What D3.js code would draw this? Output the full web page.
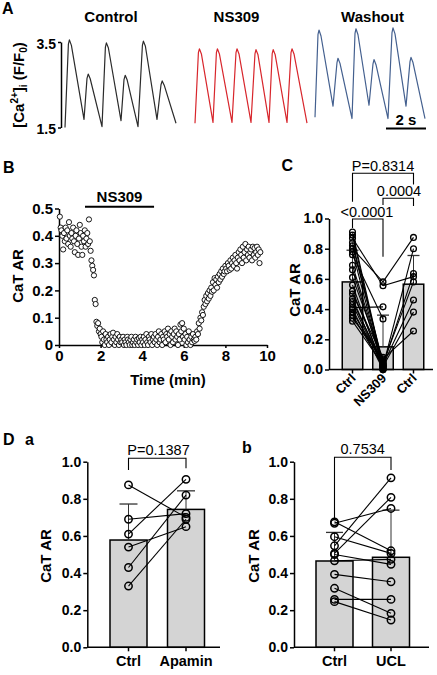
<!DOCTYPE html>
<html><head><meta charset="utf-8">
<script src="https://cdn.jsdelivr.net/npm/d3@7"></script>
<style>
body{margin:0;background:#fff;}
svg{display:block;font-family:"Liberation Sans",Arial,sans-serif;}
</style></head><body>
<svg id="fig" width="437" height="675"></svg>
<script>
// ---------- Panel A : Ca transients (time in s, value F/F0) ----------
const traceLabels = ["Control", "NS309", "Washout"];
const controlTrace = [[0,1.5],[0.17,3.45],[0.22,3.55],[0.32,3.42],[0.95,1.69],[1.1,2.65],[1.16,2.75],[1.26,2.64],[1.85,1.52],[2.02,3.38],[2.07,3.48],[2.17,3.36],[2.8,1.66],[2.95,2.62],[3.01,2.72],[3.11,2.61],[3.65,1.52],[3.87,3.42],[3.92,3.52],[4.02,3.4],[4.6,1.69],[4.8,2.5],[4.86,2.59],[4.96,2.49],[5.55,1.6]];
const ns309Trace = [[6.5,1.6],[6.67,3.25],[6.72,3.34],[6.82,3.22],[7.4,1.62],[7.57,3.25],[7.62,3.34],[7.72,3.22],[8.35,1.62],[8.55,3.25],[8.6,3.34],[8.7,3.22],[9.3,1.62],[9.5,3.23],[9.55,3.32],[9.65,3.2],[10.2,1.62],[10.36,3.23],[10.41,3.32],[10.51,3.2],[11.1,1.62],[11.3,3.25],[11.35,3.34],[11.45,3.22],[12.1,1.6]];
const washoutTrace = [[12.5,1.74],[12.65,3.68],[12.7,3.78],[12.8,3.64],[13.4,2.0],[13.6,3.02],[13.65,3.12],[13.75,3.0],[14.35,1.71],[14.5,3.7],[14.55,3.81],[14.65,3.67],[15.2,2.02],[15.4,2.99],[15.45,3.09],[15.55,2.97],[16.15,1.71],[16.35,3.72],[16.4,3.83],[16.5,3.69],[17.05,2.0],[17.25,3.04],[17.3,3.14],[17.4,3.02],[18.0,1.71]];
const aTicks = [1.5, 3.5];
const scaleBarSec = 2;

// ---------- Panel B : CaT AR over time ----------
const bStart = 0.04, bStep = 0.04; // sampling (min)
const bValues = [
0.47,0.43,0.42,0.40,0.35,0.41,0.38,0.43,0.39,0.42,0.37,0.45,0.40,0.36,0.41,0.39,0.43,0.38,0.34,0.40,0.42,0.37,0.33,0.39,0.44,0.41,0.36,0.33,0.40,0.38,0.42,0.36,0.39,0.41,0.37,
0.46,0.38,0.345,0.31,0.29,0.275,0.255,0.165,0.15,
0.085,0.07,0.08,0.05,0.06,0.04,
0.03,0.01,0.05,0.02,0.0,0.04,0.02,0.01,0.03,0.0,0.02,0.04,0.01,0.03,0.045,0.02,0.0,0.03,0.01,0.04,0.02,0.0,0.03,0.01,0.02,
0.01,0.03,0.0,0.02,0.01,0.0,0.03,0.02,0.01,0.0,0.02,0.03,0.0,0.01,0.02,0.0,0.03,0.01,0.02,0.0,0.025,0.01,0.03,0.0,0.02,
0.01,0.03,0.0,0.02,0.04,0.01,0.0,0.03,0.02,0.01,0.04,0.0,0.02,0.03,0.01,0.04,0.02,0.0,0.03,0.05,0.01,0.02,0.04,0.0,0.03,
0.02,0.05,0.01,0.04,0.03,0.06,0.02,0.04,0.0,0.05,0.03,0.01,0.04,0.06,0.02,0.05,0.03,0.0,0.04,0.02,0.075,0.05,0.08,0.03,0.06,
0.02,0.04,0.0,0.03,0.01,0.05,0.02,0.0,0.03,0.01,0.04,0.02,
0.015,0.03,0.02,0.05,0.04,0.08,0.06,0.10,0.09,0.12,0.11,0.14,0.165,
0.15,0.18,0.16,0.19,0.17,0.20,0.18,0.21,0.195,0.23,0.20,0.245,0.22,0.24,0.21,0.25,0.23,0.26,0.24,0.27,0.25,0.28,0.26,0.27,0.29,
0.28,0.27,0.30,0.29,0.275,0.31,0.28,0.30,0.32,0.29,0.31,0.33,0.30,0.28,0.32,0.34,0.31,0.35,0.33,0.30,0.36,0.32,0.34,0.37,0.31,0.35,0.33,0.36,0.32,0.34,0.35,0.31,0.36,0.33,0.355,0.32,0.34,0.36,0.33,0.35,0.30,0.34];
const bXTicks = [0,2,4,6,8,10];
const bYTicks = [0,0.1,0.2,0.3,0.4,0.5];
const bDrugWindow = [1.25, 4.57];

// ---------- Panel C ----------
const cCategories = ["Ctrl", "NS309", "Ctrl "];
const cCtrl  = [0.91,0.89,0.87,0.84,0.82,0.80,0.78,0.76,0.69,0.66,0.61,0.56,0.52,0.50,0.47,0.45,0.43,0.41,0.40,0.38,0.36,0.34,0.32];
const cNS309 = [0.02,0.00,0.555,0.03,0.05,0.58,0.01,0.335,0.04,0.02,0.06,0.00,0.03,0.08,0.01,0.04,0.02,0.415,0.00,0.05,0.02,0.07,0.03];
const cWash  = [0.80,null,0.615,0.635,null,0.875,null,null,0.58,null,null,null,0.46,null,null,null,0.38,null,null,null,null,0.255,null];
const cMeans = [0.58, 0.15, 0.565];
const cSD    = [0.21, 0.21, 0.19];
const cPvals = ["P=0.8314", "0.0004", "<0.0001"];

// ---------- Panel D ----------
const daCategories = ["Ctrl", "Apamin"];
const daCtrl   = [0.875,0.69,0.61,0.54,0.43,0.33];
const daApamin = [0.70,0.72,0.905,0.65,0.82,0.69];
const daMeans  = [0.578, 0.743];
const daSD     = [0.194, 0.10];
const daP      = "P=0.1387";

const dbCategories = ["Ctrl", "UCL"];
const dbCtrl = [0.676,0.668,0.596,0.547,0.506,0.50,0.466,0.393,0.318,0.258,0.246];
const dbUCL  = [0.52,0.748,0.506,0.913,0.808,0.447,0.474,0.353,0.183,0.258,0.147];
const dbMeans = [0.465, 0.485];
const dbSD    = [0.154, 0.254];
const dbP     = "0.7534";

const barTicks = [0,0.2,0.4,0.6,0.8,1.0];

// =====================================================================
const svg = d3.select("#fig");
function styleAxis(g, size){
  g.selectAll("path.domain").attr("stroke","#000").attr("stroke-width",1.5);
  g.selectAll(".tick line").attr("stroke","#000").attr("stroke-width",1.5);
  g.selectAll(".tick text").attr("font-family","Liberation Sans, Arial, sans-serif")
    .attr("font-weight","bold").attr("font-size",size).attr("fill","#000");
}
function label(x,y,t,opts={}){
  const el = svg.append("text").attr("x",x).attr("y",y).text(t)
    .attr("font-size",opts.size||16).attr("font-weight",opts.weight||"bold")
    .attr("text-anchor",opts.anchor||"start").attr("fill","#000");
  if(opts.rotate) el.attr("transform",`rotate(${opts.rotate},${x},${y})`);
  return el;
}

// ---------------- Panel A ----------------
label(2,13.5,"A");
const xA = d3.scaleLinear().domain([0,18]).range([65,425]);
const yA = d3.scaleLinear().domain([1.5,3.5]).range([127.5,42]);
const lineA = d3.line().x(d=>xA(d[0])).y(d=>yA(d[1]));
const traces = [controlTrace, ns309Trace, washoutTrace];
const traceColors = ["#2b2b2b","#d8262c","#44608f"];
traces.forEach((tr,i)=>{
  svg.append("path").datum(tr).attr("d",lineA).attr("fill","none")
    .attr("stroke",traceColors[i]).attr("stroke-width",1.2).attr("stroke-linejoin","round");
});
const titleX = [111, 236.5, 372.5];
traceLabels.forEach((t,i)=>label(titleX[i],21.5,t,{size:15,anchor:"middle"}));
const gA = svg.append("g").attr("transform","translate(61,0)")
  .call(d3.axisLeft(yA).tickValues(aTicks).tickFormat(d3.format(".1f")).tickSize(3).tickSizeOuter(0).tickPadding(2));
styleAxis(gA,14);
gA.selectAll(".tick text").attr("dy","0.45em");
const ylA = svg.append("text").attr("transform","translate(24,85) rotate(-90)")
  .attr("text-anchor","middle").attr("font-size",15).attr("font-weight","bold");
ylA.append("tspan").text("[Ca");
ylA.append("tspan").text("2+").attr("font-size",10).attr("dy",-6);
ylA.append("tspan").text("]").attr("dy",6);
ylA.append("tspan").text("i").attr("font-size",10).attr("dy",3);
ylA.append("tspan").text(" (F/F").attr("dy",-3);
ylA.append("tspan").text("0").attr("font-size",10).attr("dy",3);
ylA.append("tspan").text(")").attr("dy",-3);
const sbStart = 16.05;
svg.append("line").attr("x1",xA(sbStart)).attr("x2",xA(sbStart+scaleBarSec))
  .attr("y1",128.5).attr("y2",128.5).attr("stroke","#000").attr("stroke-width",2);
label((xA(sbStart)+xA(sbStart+scaleBarSec))/2,125,scaleBarSec+" s",{size:15,anchor:"middle"});

// ---------------- Panel B ----------------
label(3,173.3,"B");
const xB = d3.scaleLinear().domain([0,10]).range([59,267]);
const yB = d3.scaleLinear().domain([0,0.5]).range([345,208.5]);
const gBx = svg.append("g").attr("transform","translate(0,345)")
  .call(d3.axisBottom(xB).tickValues(bXTicks).tickFormat(d3.format("d")).tickSize(3).tickSizeOuter(0).tickPadding(2));
styleAxis(gBx,15);
const gBy = svg.append("g").attr("transform","translate(59,0)")
  .call(d3.axisLeft(yB).tickValues(bYTicks).tickFormat(d=>d===0?"0":d3.format(".1f")(d)).tickSize(4).tickSizeOuter(0).tickPadding(2));
styleAxis(gBy,15);
const bData = bValues.map((v,i)=>({t:bStart+i*bStep, v}));
svg.append("g").selectAll("circle").data(bData).join("circle")
  .attr("cx",d=>xB(d.t)).attr("cy",d=>yB(d.v)).attr("r",2.6)
  .attr("fill","#fff").attr("stroke","#000").attr("stroke-width",0.9);
svg.append("line").attr("x1",xB(bDrugWindow[0])).attr("x2",xB(bDrugWindow[1]))
  .attr("y1",206.7).attr("y2",206.7).attr("stroke","#000").attr("stroke-width",2);
label((xB(bDrugWindow[0])+xB(bDrugWindow[1]))/2,201.7,"NS309",{size:15,anchor:"middle"});
label(168,385,"Time (min)",{size:15,anchor:"middle"});
label(22.5,276,"CaT AR",{size:15,anchor:"middle",rotate:-90});

// ---------------- bar panel helper ----------------
function barPanel(cfg){
  const y = d3.scaleLinear().domain([0,1]).range(cfg.yRange);
  const x = d3.scalePoint().domain(cfg.cats).range(cfg.xRange);
  const g = svg.append("g");
  g.selectAll("rect.bar").data(cfg.means).join("rect")
    .attr("x",(d,i)=>x(cfg.cats[i])-cfg.bw/2).attr("width",cfg.bw)
    .attr("y",d=>y(d)).attr("height",d=>y(0)-y(d))
    .attr("fill","#d4d4d4").attr("stroke","#000").attr("stroke-width",1.5);
  cfg.means.forEach((m,i)=>{
    const cx = x(cfg.cats[i]);
    g.append("line").attr("x1",cx).attr("x2",cx).attr("y1",y(m)).attr("y2",y(m+cfg.sd[i]))
      .attr("stroke","#333").attr("stroke-width",1);
    g.append("line").attr("x1",cx-cfg.cap/2).attr("x2",cx+cfg.cap/2).attr("y1",y(m+cfg.sd[i])).attr("y2",y(m+cfg.sd[i]))
      .attr("stroke","#333").attr("stroke-width",1.3);
  });
  const gy = svg.append("g").attr("transform",`translate(${cfg.axisX},0)`)
    .call(d3.axisLeft(y).tickValues(barTicks).tickFormat(d3.format(".1f")).tickSize(4).tickSizeOuter(0).tickPadding(2));
  styleAxis(gy,cfg.fs);
  svg.append("line").attr("x1",cfg.axisX).attr("x2",cfg.axisEnd).attr("y1",y(0)).attr("y2",y(0))
    .attr("stroke","#000").attr("stroke-width",1.5);
  cfg.cats.forEach(c=>{
    svg.append("line").attr("x1",x(c)).attr("x2",x(c)).attr("y1",y(0)).attr("y2",y(0)+4)
      .attr("stroke","#000").attr("stroke-width",1.5);
  });
  const gl = svg.append("g");
  const gp = svg.append("g");
  for(let s=0; s<cfg.series.length-1; s++){
    cfg.series[s].forEach((v,i)=>{
      const w = cfg.series[s+1][i];
      if(v==null||w==null) return;
      gl.append("line").attr("x1",x(cfg.cats[s])).attr("y1",y(v))
        .attr("x2",x(cfg.cats[s+1])).attr("y2",y(w))
        .attr("stroke","#000").attr("stroke-width",1.1);
    });
  }
  cfg.series.forEach((ser,s)=>{
    gp.selectAll(null).data(ser.filter(v=>v!=null)).join("circle")
      .attr("cx",x(cfg.cats[s])).attr("cy",d=>y(d)).attr("r",cfg.r)
      .attr("fill","none").attr("stroke","#000").attr("stroke-width",cfg.sw);
  });
  return {x,y};
}

// ---------------- Panel C ----------------
label(281.5,170.7,"C");
const C = barPanel({cats:cCategories, xRange:[352.5,413.5], yRange:[369.5,218.5], bw:20.5, cap:12,
  axisX:329, axisEnd:433, means:cMeans, sd:cSD, series:[cCtrl,cNS309,cWash], r:2.9, sw:1.3, fs:14});
cCategories.forEach(c=>{
  const tx = C.x(c)+4, ty = 379;
  label(tx,ty,c.trim(),{size:13,anchor:"end",rotate:-45});
});
label(299.5,290,"CaT AR",{size:15,anchor:"middle",rotate:-90});
const bk = (d)=>svg.append("path").attr("d",d).attr("fill","none").attr("stroke","#000").attr("stroke-width",1.1);
const c0=C.x(cCategories[0]), c1=C.x(cCategories[1]), c2=C.x(cCategories[2]);
bk(`M${c0},201.7V173.3H${c2}V184.5`);
bk(`M${c1},205V198.3H${c2}V206`);
bk(`M${c0},228V219H${c1}V256.7`);
label((c0+c2)/2,171,cPvals[0],{size:14.5,weight:"normal",anchor:"middle"});
label(399,196,cPvals[1],{size:14.5,weight:"normal",anchor:"middle"});
label(367,216.5,cPvals[2],{size:14.5,weight:"normal",anchor:"middle"});

// ---------------- Panel D ----------------
label(3,445,"D");
label(25,445,"a",{size:16});
label(242,453,"b",{size:16});
const Da = barPanel({cats:daCategories, xRange:[128.5,186], yRange:[647.3,461.7], bw:37, cap:18,
  axisX:87.3, axisEnd:220, means:daMeans, sd:daSD, series:[daCtrl,daApamin], r:3.7, sw:1.5, fs:14});
const Db = barPanel({cats:dbCategories, xRange:[334.5,391], yRange:[647.3,461.7], bw:37, cap:17,
  axisX:294, axisEnd:429, means:dbMeans, sd:dbSD, series:[dbCtrl,dbUCL], r:3.7, sw:1.5, fs:14});
daCategories.forEach(c=>label(Da.x(c),666,c,{size:14.5,anchor:"middle"}));
dbCategories.forEach(c=>label(Db.x(c),666,c,{size:14.5,anchor:"middle"}));
label(50.5,556,"CaT AR",{size:15,anchor:"middle",rotate:-90});
label(259,556,"CaT AR",{size:15,anchor:"middle",rotate:-90});
bk(`M${Da.x("Ctrl")},470V458.3H${Da.x("Apamin")}V468.3`);
label(158.5,455,daP,{size:14.5,weight:"normal",anchor:"middle"});
bk(`M${Db.x("Ctrl")},518V457.3H${Db.x("UCL")}V470`);
label(362.7,454,dbP,{size:14.5,weight:"normal",anchor:"middle"});
</script>
</body></html>
